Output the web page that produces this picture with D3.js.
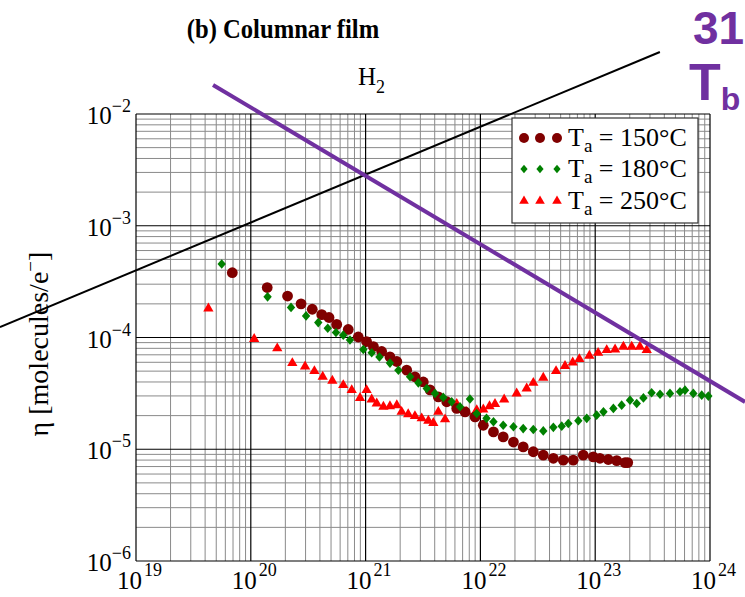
<!DOCTYPE html>
<html>
<head>
<meta charset="utf-8">
<script src="https://cdn.jsdelivr.net/npm/d3@7"></script>
<style>
  body { margin: 0; background: #fff; }
  svg { display: block; font-family: "Liberation Serif", "Times New Roman", serif; }
</style>
</head>
<body>
<div id="chart"></div>
<script>
// fluence [e-/cm2] vs yield eta [molecules/e-]
const ta150 = [
  [6.9e19, 3.8e-4], [1.39e20, 2.8e-4], [2.09e20, 2.35e-4], [2.74e20, 2.0e-4], [3.43e20, 1.79e-4],
  [4.15e20, 1.6e-4], [4.8e20, 1.51e-4], [5.6e20, 1.31e-4], [7.06e20, 1.18e-4], [8.63e20, 1.01e-4],
  [1.02e21, 9.2e-5], [1.17e21, 8.3e-5], [1.38e21, 7.5e-5], [1.63e21, 6.7e-5], [1.87e21, 6.1e-5],
  [2.28e21, 5.1e-5], [2.69e21, 4.45e-5], [3.18e21, 4.0e-5], [3.64e21, 3.4e-5], [4.3e21, 2.94e-5],
  [5.09e21, 2.66e-5], [6.22e21, 2.32e-5], [7.35e21, 2.16e-5], [8.98e21, 1.95e-5], [1.06e22, 1.64e-5],
  [1.3e22, 1.43e-5], [1.58e22, 1.29e-5], [1.94e22, 1.16e-5], [2.36e22, 1.05e-5], [2.89e22, 9.5e-6],
  [3.53e22, 8.85e-6], [4.32e22, 8.3e-6], [5.27e22, 8.0e-6], [6.44e22, 8.0e-6], [7.87e22, 8.85e-6],
  [9.62e22, 8.55e-6], [1.1e23, 8.3e-6], [1.3e23, 8.1e-6], [1.54e23, 7.9e-6], [1.82e23, 7.6e-6],
  [1.92e23, 7.6e-6]
];
const ta180 = [
  [5.58e19, 4.54e-4], [1.4e20, 2.31e-4], [2.24e20, 1.86e-4], [3.03e20, 1.56e-4], [3.87e20, 1.36e-4],
  [4.68e20, 1.21e-4], [5.52e20, 1.11e-4], [6.39e20, 1.05e-4], [7.31e20, 9.5e-5], [9.55e20, 7.8e-5],
  [1.13e21, 7.3e-5], [1.32e21, 6.7e-5], [1.63e21, 5.9e-5], [1.93e21, 5.1e-5], [2.44e21, 4.45e-5],
  [2.88e21, 3.93e-5], [3.41e21, 3.5e-5], [4.02e21, 3.16e-5], [4.75e21, 2.91e-5], [5.62e21, 2.66e-5],
  [6.64e21, 2.4e-5], [8.11e21, 2.82e-5], [9.29e21, 2.09e-5], [1.13e22, 1.89e-5], [1.3e22, 1.76e-5],
  [1.58e22, 1.64e-5], [1.94e22, 1.59e-5], [2.36e22, 1.53e-5], [2.89e22, 1.5e-5], [3.53e22, 1.46e-5],
  [4.32e22, 1.57e-5], [5.11e22, 1.61e-5], [5.83e22, 1.7e-5], [7.13e22, 1.8e-5], [8.44e22, 1.89e-5],
  [1.03e23, 2.02e-5], [1.18e23, 2.16e-5], [1.44e23, 2.32e-5], [1.7e23, 2.48e-5], [2.01e23, 2.75e-5],
  [2.3e23, 2.57e-5], [2.63e23, 2.88e-5], [3.1e23, 3.2e-5], [3.67e23, 3.11e-5], [4.48e23, 3.16e-5],
  [5.48e23, 3.27e-5], [6.06e23, 3.38e-5], [7.16e23, 3.16e-5], [8.47e23, 3.05e-5], [9.67e23, 2.99e-5]
];
const ta250 = [
  [4.27e19, 1.82e-4], [1.07e20, 9.7e-5], [1.7e20, 8.0e-5], [2.3e20, 5.9e-5], [2.97e20, 5.5e-5],
  [3.58e20, 5.0e-5], [4.23e20, 4.45e-5], [5.13e20, 4.1e-5], [6.39e20, 3.75e-5], [7.57e20, 3.38e-5],
  [8.94e20, 2.88e-5], [1.02e21, 3.38e-5], [1.13e21, 2.79e-5], [1.25e21, 2.57e-5], [1.43e21, 2.4e-5],
  [1.63e21, 2.43e-5], [1.87e21, 2.48e-5], [2.06e21, 2.16e-5], [2.35e21, 2.06e-5], [2.69e21, 1.98e-5],
  [3.08e21, 1.89e-5], [3.52e21, 1.8e-5], [3.89e21, 1.72e-5], [4.3e21, 2.16e-5], [4.92e21, 1.85e-5],
  [6.22e21, 2.54e-5], [7.6e21, 2.16e-5], [9.29e21, 2.24e-5], [1.06e22, 2.27e-5], [1.2e22, 2.43e-5],
  [1.34e22, 2.54e-5], [1.61e22, 2.79e-5], [2.07e22, 3.16e-5], [2.53e22, 3.5e-5], [2.89e22, 3.93e-5],
  [3.53e22, 4.36e-5], [4.56e22, 5.0e-5], [5.46e22, 5.55e-5], [6.37e22, 5.98e-5], [7.28e22, 6.41e-5],
  [8.89e22, 6.86e-5], [1.06e23, 7.29e-5], [1.26e23, 7.71e-5], [1.49e23, 7.82e-5], [1.76e23, 8.26e-5],
  [2.08e23, 8.26e-5], [2.45e23, 8.26e-5], [2.81e23, 7.71e-5]
];

// guide lines drawn over the figure (end points in data units)
const blackLine = [[6.53e17, 1.24e-4], [3.66e23, 3.59e-2]];
const purpleLine = [[4.69e19, 1.82e-2], [2.02e24, 2.65e-5]];

const xTickExps = [19, 20, 21, 22, 23, 24];
const yTickExps = [-2, -3, -4, -5, -6];
const legendLabels = ["150°C", "180°C", "250°C"];

const width = 745;
const height = 597;
const margin = { top: 114, right: 35, bottom: 36, left: 136 };

const svg = d3.select("#chart")
  .append("svg")
  .attr("width", width)
  .attr("height", height);

const xScale = d3.scaleLog()
  .domain([1e19, 1e24])
  .range([margin.left, width - margin.right]);

const yScale = d3.scaleLog()
  .domain([1e-6, 1e-2])
  .range([height - margin.bottom, margin.top]);

// grid: minor lines grey, decades black
const minorX = [], minorY = [];
for (let e = 19; e < 24; e++) for (let k = 2; k <= 9; k++) minorX.push(k * Math.pow(10, e));
for (let e = -6; e < -2; e++) for (let k = 2; k <= 9; k++) minorY.push(k * Math.pow(10, e));

const grid = svg.append("g");
grid.selectAll(".mx").data(minorX).join("line")
  .attr("x1", d => xScale(d)).attr("x2", d => xScale(d))
  .attr("y1", yScale(1e-6)).attr("y2", yScale(1e-2))
  .attr("stroke", "#8a8a8a").attr("stroke-width", 1);
grid.selectAll(".my").data(minorY).join("line")
  .attr("y1", d => yScale(d)).attr("y2", d => yScale(d))
  .attr("x1", xScale(1e19)).attr("x2", xScale(1e24))
  .attr("stroke", "#8a8a8a").attr("stroke-width", 1);
grid.selectAll(".Mx").data(xTickExps).join("line")
  .attr("x1", d => xScale(Math.pow(10, d))).attr("x2", d => xScale(Math.pow(10, d)))
  .attr("y1", yScale(1e-6)).attr("y2", yScale(1e-2))
  .attr("stroke", "#000").attr("stroke-width", 1.2);
grid.selectAll(".My").data(yTickExps).join("line")
  .attr("y1", d => yScale(Math.pow(10, d))).attr("y2", d => yScale(Math.pow(10, d)))
  .attr("x1", xScale(1e19)).attr("x2", xScale(1e24))
  .attr("stroke", "#000").attr("stroke-width", 1.2);

// tick labels 10^n
const xLab = svg.append("g").selectAll("text").data(xTickExps).join("text")
  .attr("x", d => xScale(Math.pow(10, d)) - 19)
  .attr("y", 589)
  .attr("font-size", 25);
xLab.append("tspan").text("10");
xLab.append("tspan").attr("dy", -13).attr("font-size", 18).attr("dx", 2).text(d => d);

const yLab = svg.append("g").selectAll("text").data(yTickExps).join("text")
  .attr("x", 131)
  .attr("y", d => yScale(Math.pow(10, d)) + 10)
  .attr("text-anchor", "end")
  .attr("font-size", 25);
yLab.append("tspan").text("10");
yLab.append("tspan").attr("dy", -12).attr("font-size", 18).text(d => "\u2212" + Math.abs(d));

// axis title
const yTitle = svg.append("text")
  .attr("transform", "translate(48,344) rotate(-90)")
  .attr("text-anchor", "middle")
  .attr("font-size", 28);
yTitle.append("tspan").text("\u03b7 [molecules/e");
yTitle.append("tspan").attr("dy", -11).attr("font-size", 19).text("\u2212");
yTitle.append("tspan").attr("dy", 11).text("]");

svg.append("text")
  .attr("transform", "translate(283,38) scale(0.88,1)")
  .attr("text-anchor", "middle")
  .attr("font-size", 28).attr("font-weight", "bold")
  .text("(b) Columnar film");

const h2 = svg.append("text").attr("x", 358).attr("y", 85).attr("font-size", 25);
h2.append("tspan").text("H");
h2.append("tspan").attr("dy", 8).attr("font-size", 18).text("2");

// data points
const diamond = (hw, hh) => `M0,${-hh}L${hw},0L0,${hh}L${-hw},0Z`;
const tri = d3.symbol().type(d3.symbolTriangle).size(46);

const pts = svg.append("g");
pts.append("g").selectAll("path").data(ta250).join("path")
  .attr("d", tri)
  .attr("transform", d => `translate(${xScale(d[0])},${yScale(d[1])})`)
  .attr("fill", "#ff0000");
pts.append("g").selectAll("circle").data(ta150).join("circle")
  .attr("cx", d => xScale(d[0])).attr("cy", d => yScale(d[1]))
  .attr("r", 5.4)
  .attr("fill", "#800000");
pts.append("g").selectAll("path").data(ta180).join("path")
  .attr("d", diamond(4.2, 4.8))
  .attr("transform", d => `translate(${xScale(d[0])},${yScale(d[1])})`)
  .attr("fill", "#008000");

// legend
const lg = svg.append("g");
lg.append("rect")
  .attr("x", 512).attr("y", 118).attr("width", 186).attr("height", 105)
  .attr("fill", "#fff").attr("stroke", "#333").attr("stroke-width", 1.2);
const rows = [138, 169, 201];
const mx = [524, 540, 557];
rows.forEach((ry, i) => {
  mx.forEach(px => {
    if (i === 0) lg.append("circle").attr("cx", px).attr("cy", ry).attr("r", 5).attr("fill", "#800000");
    if (i === 1) lg.append("path").attr("d", diamond(3.6, 4.2)).attr("transform", `translate(${px},${ry})`).attr("fill", "#008000");
    if (i === 2) lg.append("path").attr("d", d3.symbol().type(d3.symbolTriangle).size(40)).attr("transform", `translate(${px},${ry})`).attr("fill", "#ff0000");
  });
  const t = lg.append("text").attr("x", 568).attr("y", ry + 8).attr("font-size", 26);
  t.append("tspan").text("T");
  t.append("tspan").attr("dy", 6).attr("font-size", 19).text("a");
  t.append("tspan").attr("dy", -6).text(" = " + legendLabels[i]);
});

// overlay lines
const line = d3.line().x(d => xScale(d[0])).y(d => yScale(d[1]));
svg.append("path").datum(blackLine).attr("d", line)
  .attr("fill", "none").attr("stroke", "#000").attr("stroke-width", 2);
svg.append("path").datum(purpleLine).attr("d", line)
  .attr("fill", "none").attr("stroke", "#7030a0").attr("stroke-width", 4);

// purple annotation, cut by the right edge as in the source slide
svg.append("text")
  .attr("x", 693).attr("y", 44)
  .attr("font-family", "Liberation Sans, Arial, sans-serif")
  .attr("font-weight", "bold").attr("font-size", 46)
  .attr("fill", "#7030a0")
  .text("31");
const tb = svg.append("text")
  .attr("x", 689).attr("y", 100)
  .attr("font-family", "Liberation Sans, Arial, sans-serif")
  .attr("font-weight", "bold").attr("font-size", 52)
  .attr("fill", "#7030a0");
tb.append("tspan").text("T");
tb.append("tspan").attr("dy", 10).attr("font-size", 32).text("b");
</script>
</body>
</html>
